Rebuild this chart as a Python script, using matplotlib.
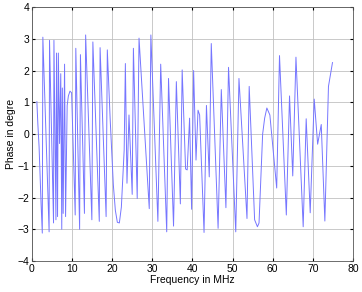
import matplotlib
matplotlib.use("Agg")
import matplotlib.pyplot as plt

plt.rcParams['font.family'] = ['Liberation Sans', 'DejaVu Sans']

# phase trace (MHz, phase)
freq = [1.25, 1.5, 1.8, 2.3, 2.6, 2.74, 4.3, 4.4, 5.4, 5.5, 6.0, 6.15, 6.4, 6.6,
        6.9, 7.2, 7.45, 7.6, 7.8, 8.15, 8.4, 8.8, 9.1, 9.5, 9.9, 10.8,
        10.95, 11.9, 12.1, 13.1, 13.4, 14.95, 15.2, 16.8, 17.0, 18.5, 18.8,
        19.5, 20.3, 20.8, 21.3, 21.8, 22.3, 23.0, 23.3, 23.7, 24.2, 25.0, 25.3,
        26.25, 26.7, 29.25, 29.65, 31.4, 32.1, 33.6, 34.05, 35.3, 36.0, 37.0,
        37.45, 38.3, 38.7, 39.3, 39.8, 40.3, 40.9, 41.4, 41.8, 42.9, 43.5,
        44.2, 44.7, 46.4, 47.2, 48.35, 49.0, 50.8, 51.6, 53.6, 54.15, 55.5,
        56.2, 56.6, 57.5, 58.0, 58.55, 59.3, 61.0, 61.7, 63.4, 64.2, 65.0,
        65.8, 67.6, 68.35, 69.35, 70.35, 71.2, 72.1, 73.0, 73.9, 74.9]
phase = [1.02, 0.3, -0.4, -2.2, -3.12, 3.05, -3.08, 2.95, -2.8, 2.95, -2.7, 2.55, -2.6, 2.55,
         -0.3, 1.9, -3.0, 1.45, -2.5, 2.2, -2.6, 0.9, 1.2, 1.35, 1.3, -2.55,
         2.7, -3.0, 2.5, -2.5, 3.12, -2.7, 2.9, -2.75, 2.72, -2.6, 2.65,
         0.5, -1.6, -2.4, -2.78, -2.8, -2.3, -0.5, 2.22, -1.55, 0.6, -1.9, 2.7,
         -2.03, 3.02, -2.35, 3.12, -2.75, 2.2, -3.08, 1.75, -2.9, 1.65, -2.2,
         2.02, -1.1, -1.13, 0.5, -2.37, 2.0, -0.82, 0.75, 0.6, -3.1, 0.9,
         -1.35, 2.85, -2.97, 1.4, -2.32, 2.1, -3.08, 1.75, -2.66, 1.5, -2.7,
         -2.92, -2.8, 0.0, 0.5, 0.82, 0.6, -1.7, 2.47, -2.55, 1.2, -1.32,
         2.42, -2.92, 0.48, -2.48, 1.1, -0.32, 0.3, -2.74, 1.5, 2.25]

fig = plt.figure(figsize=(3.62, 2.92), dpi=100)
ax = fig.add_axes([0.088, 0.106, 0.887, 0.870])
ax.plot(freq, phase, color='#7676ff', lw=0.7)
ax.set_xlim(0, 80)
ax.set_ylim(-4, 4)
ax.set_xticks(range(0, 81, 10))
ax.set_yticks(range(-4, 5))
ax.grid(True, color='#c0c0c0', lw=0.6)
ax.tick_params(direction='in', labelsize=7.5, length=2, pad=2, top=True, right=True)
for s in ax.spines.values():
    s.set_color('#555555')
    s.set_linewidth(0.6)
ax.set_xlabel('Frequency in MHz', fontsize=7.5, labelpad=1)
ax.set_ylabel('Phase in degre', fontsize=7.5, labelpad=1)
fig.savefig('out.png', dpi=100)
